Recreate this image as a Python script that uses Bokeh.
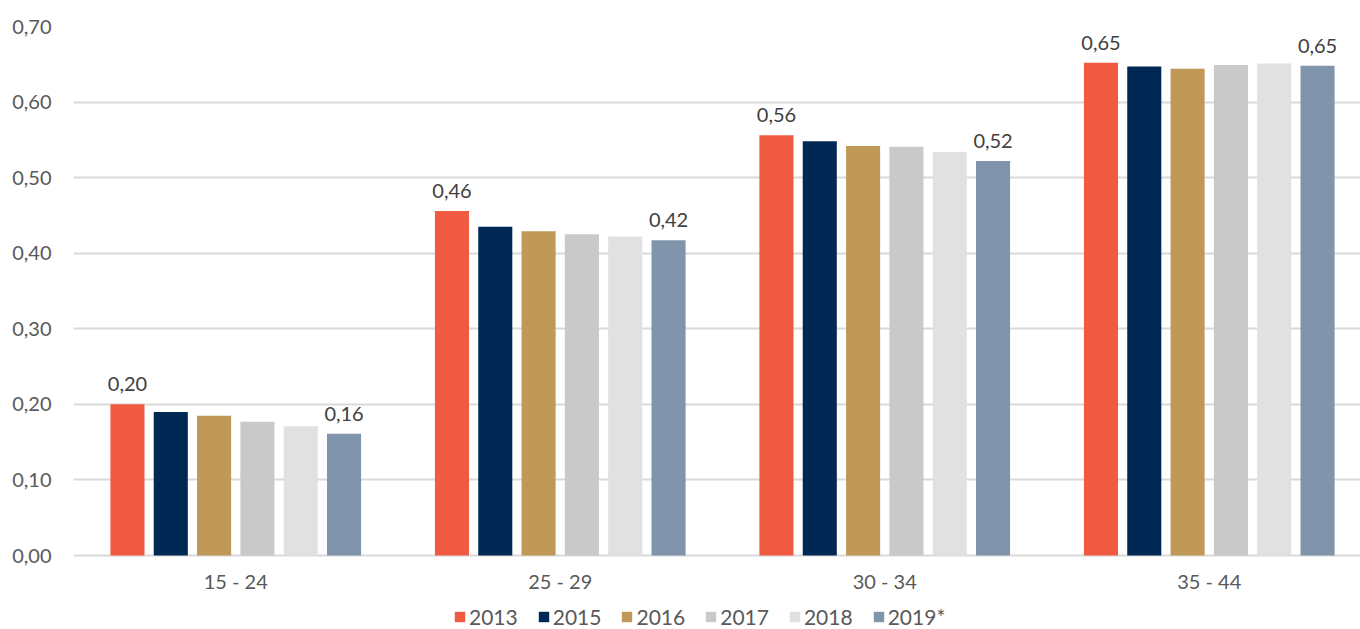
from bokeh.plotting import figure
from bokeh.models import ColumnDataSource, Range1d, FixedTicker, Legend, LegendItem
from bokeh.transform import dodge
from bokeh.core.properties import value
from bokeh.embed import file_html
from bokeh.resources import INLINE

categories = ["15 - 24", "25 - 29", "30 - 34", "35 - 44"]
years = ["2013", "2015", "2016", "2017", "2018", "2019*"]
v2013 = [0.200, 0.456, 0.556, 0.652]
v2015 = [0.190, 0.435, 0.548, 0.647]
v2016 = [0.185, 0.429, 0.542, 0.644]
v2017 = [0.177, 0.425, 0.541, 0.649]
v2018 = [0.171, 0.422, 0.534, 0.651]
v2019 = [0.161, 0.417, 0.522, 0.648]
series = [v2013, v2015, v2016, v2017, v2018, v2019]
colors = ["#F05A40", "#002855", "#C09858", "#C8C9C8", "#E1E1E1", "#8094AC"]
y_ticks = [0.0, 0.1, 0.2, 0.3, 0.4, 0.5, 0.6, 0.7]
y_tick_labels = ["0,00", "0,10", "0,20", "0,30", "0,40", "0,50", "0,60", "0,70"]

FONT = "Lato"
cat_x = [i + 0.5 for i in range(len(categories))]

W, H = 1360, 629
TOP, LEFT = 26, 73
frame_h = H - TOP
ymax = y_ticks[-1]
px_per_unit = 529 / ymax
ymin = ymax - frame_h / px_per_unit

p = figure(width=W, height=H, output_backend="svg", toolbar_location=None,
           x_range=Range1d(0, (W - LEFT) / 324.5), y_range=Range1d(ymin, ymax),
           x_axis_location=None,
           min_border_left=LEFT, min_border_right=0, min_border_top=TOP, min_border_bottom=0)
p.outline_line_color = None
p.background_fill_color = "white"

step = 0.1335
bw = 0.105
items = []
for k, (yr, vals, col) in enumerate(zip(years, series, colors)):
    off = (k - 2.5) * step
    src = ColumnDataSource(dict(x=cat_x, top=vals,
                                lab=[("%.2f" % v).replace(".", ",") for v in vals]))
    r = p.vbar(x=dodge("x", off), top="top", width=bw, bottom=0, source=src,
               fill_color=col, line_color=None)
    items.append(LegendItem(label=yr, renderers=[r]))
    if k in (0, len(years) - 1):
        p.text(x=dodge("x", off), y="top", text="lab", source=src,
               text_align="center", text_baseline="bottom", y_offset=-13,
               text_font=value(FONT), text_font_size="20px", text_color="#404040")

# category labels under the zero line
cat_src = ColumnDataSource(dict(x=cat_x, y=[y_ticks[0]] * len(categories), t=categories))
p.text(x="x", y="y", text="t", source=cat_src, text_align="center",
       text_baseline="middle", y_offset=25,
       text_font=value(FONT), text_font_size="20px", text_color="#595959")

yt = FixedTicker(ticks=y_ticks)
p.yaxis.ticker = yt
p.ygrid.ticker = yt
p.yaxis.major_label_overrides = {t: l for t, l in zip(y_ticks, y_tick_labels)}
ax = p.yaxis[0]
ax.axis_line_color = None
ax.major_tick_line_color = None
ax.minor_tick_line_color = None
ax.major_label_text_font = FONT
ax.major_label_text_font_size = "20px"
ax.major_label_text_color = "#595959"
ax.major_label_standoff = 16

p.xgrid.grid_line_color = None
p.ygrid.grid_line_color = "#D9D9D9"
p.ygrid.grid_line_width = 2

legend = Legend(items=items, orientation="horizontal", location=(380, 0),
                label_text_font=FONT, label_text_font_size="21px",
                label_text_color="#595959", glyph_width=13, glyph_height=13,
                label_standoff=3, spacing=19, padding=0, margin=0,
                border_line_color=None, background_fill_alpha=0)
p.add_layout(legend, "center")

open("out.html", "w").write(file_html(p, INLINE))
